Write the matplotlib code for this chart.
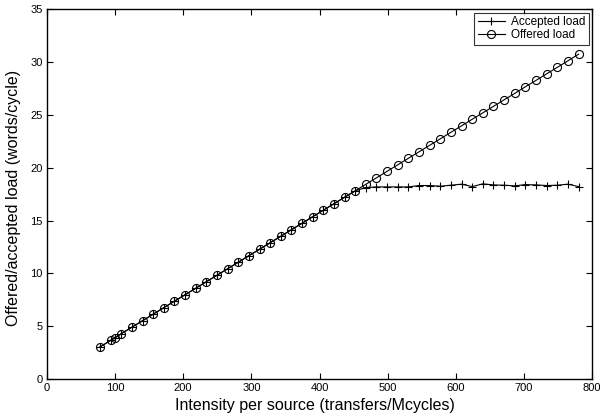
import matplotlib.pyplot as plt

plt.rcParams['font.family'] = ['Liberation Sans', 'DejaVu Sans']

# intensity per source (transfers/Mcycles)
intensity = [78, 93.6, 100, 109.2, 124.8, 140.4, 156, 171.6, 187.2, 202.8,
             218.4, 234, 249.6, 265.2, 280.8, 296.4, 312, 327.6, 343.2, 358.8,
             374.4, 390, 405.6, 421.2, 436.8, 452.4, 468, 483.6, 499.2, 514.8,
             530.4, 546, 561.6, 577.2, 592.8, 608.4, 624, 639.6, 655.2, 670.8,
             686.4, 702, 717.6, 733.2, 748.8, 764.4, 780]

offered = [3.05, 3.67, 3.91, 4.30, 4.92, 5.53, 6.15, 6.76, 7.38, 7.99,
           8.60, 9.22, 9.83, 10.45, 11.06, 11.68, 12.29, 12.91, 13.52, 14.14,
           14.75, 15.37, 15.98, 16.60, 17.21, 17.82, 18.44, 19.05, 19.67, 20.28,
           20.90, 21.51, 22.13, 22.74, 23.36, 23.97, 24.59, 25.20, 25.81, 26.43,
           27.04, 27.66, 28.27, 28.89, 29.50, 30.12, 30.75]

accepted = [3.05, 3.67, 3.91, 4.30, 4.92, 5.53, 6.15, 6.76, 7.38, 7.99,
            8.60, 9.22, 9.83, 10.45, 11.06, 11.68, 12.29, 12.91, 13.52, 14.14,
            14.75, 15.37, 15.98, 16.60, 17.21, 17.82, 18.13, 18.19, 18.19, 18.19,
            18.19, 18.32, 18.32, 18.26, 18.35, 18.45, 18.22, 18.48, 18.38, 18.35,
            18.29, 18.41, 18.38, 18.32, 18.35, 18.45, 18.22]

fig = plt.figure(figsize=(6, 4.19), dpi=100)
ax = fig.add_axes([0.078, 0.095, 0.909, 0.883])

ax.plot(intensity, accepted, color='black', lw=0.8, marker='+',
        markersize=5.8, markeredgewidth=0.8, label='Accepted load')
ax.plot(intensity, offered, color='black', lw=0.8, marker='o',
        markersize=5.8, markerfacecolor='none', markeredgewidth=0.8,
        label='Offered load')

ax.set_xlim(0, 800)
ax.set_ylim(0, 35)
ax.set_xticks(range(0, 801, 100))
ax.set_yticks(range(0, 36, 5))
ax.tick_params(direction='in', top=True, right=True, length=4,
               width=0.8, labelsize=8, pad=3)
for s in ax.spines.values():
    s.set_linewidth(1.0)

ax.set_xlabel('Intensity per source (transfers/Mcycles)', fontsize=11.5)
ax.set_ylabel('Offered/accepted load (words/cycle)', fontsize=11.5)
ax.xaxis.set_label_coords(0.491, -0.05)
ax.yaxis.set_label_coords(-0.047, 0.49)

leg = ax.legend(loc='upper right', fontsize=8.5, frameon=True, fancybox=False,
                borderaxespad=0.3, borderpad=0.3, labelspacing=0.1,
                handlelength=2.3, handletextpad=0.5)
leg.get_frame().set_edgecolor('black')
leg.get_frame().set_linewidth(0.8)

fig.savefig('out.png', dpi=100)
